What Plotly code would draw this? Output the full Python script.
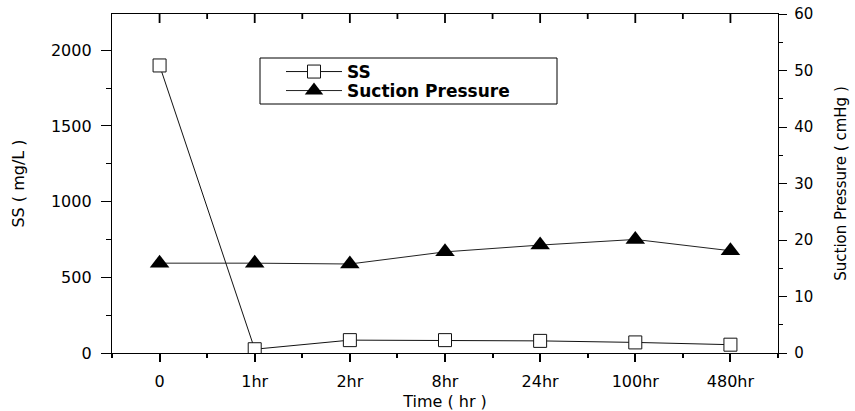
import plotly.graph_objects as go

categories = ["0", "1hr", "2hr", "8hr", "24hr", "100hr", "480hr"]
ss_values = [1900, 25, 85, 85, 80, 70, 55]
suction_values = [15.9, 15.9, 15.75, 17.9, 19.1, 20.1, 18.1]
left_ticks = [0, 500, 1000, 1500, 2000]
right_ticks = [0, 10, 20, 30, 40, 50, 60]

xpos = list(range(len(categories)))
FONT = "DejaVu Sans"

# plot-area pixel frame helpers
L, R, T, B = 112, 778, 14, 353
def px_x(p):
    return (p - L) / (R - L)
def px_y(p):
    return 1 - (p - T) / (B - T)

fig = go.Figure()
fig.add_trace(go.Scatter(
    x=xpos, y=ss_values, name="SS", mode="lines+markers", legend="legend",
    line=dict(color="#111", width=1),
    marker=dict(symbol="square", size=13, color="white", line=dict(color="#111", width=1)),
))
fig.add_trace(go.Scatter(
    x=xpos, y=suction_values, name="Suction Pressure", mode="lines+markers",
    yaxis="y2", legend="legend2",
    line=dict(color="#222", width=1),
    marker=dict(symbol="triangle-up", size=17, color="black"),
))

axis_common = dict(showgrid=False, zeroline=False, showline=True, linecolor="black", linewidth=1.3,
                   tickcolor="black", tickfont=dict(family=FONT, size=16, color="black"))
legend_common = dict(xanchor="left", yanchor="middle", borderwidth=0, bgcolor="rgba(0,0,0,0)",
                     font=dict(family=FONT, size=17, color="black", weight="bold"), itemwidth=56)

# legend frame + inward tick marks along the top edge (at category centres and half steps)
shapes = [dict(type="rect", xref="paper", yref="paper", x0=px_x(260), x1=px_x(557),
               y0=px_y(104), y1=px_y(58), line=dict(color="black", width=1), layer="below")]
for i in xpos:
    shapes.append(dict(type="line", xref="x", yref="paper", x0=i, x1=i, y0=1, y1=px_y(T + 9),
                       line=dict(color="black", width=1.8), layer="above"))
    if i < xpos[-1]:
        shapes.append(dict(type="line", xref="x", yref="paper", x0=i + 0.5, x1=i + 0.5, y0=1,
                           y1=px_y(T + 5), line=dict(color="black", width=1.8), layer="above"))

fig.update_layout(
    width=855, height=411,
    margin=dict(l=L, r=855 - R, t=T, b=411 - B, autoexpand=False),
    paper_bgcolor="white", plot_bgcolor="white",
    showlegend=True,
    legend=dict(legend_common, x=px_x(281), y=px_y(72)),
    legend2=dict(legend_common, x=px_x(281), y=px_y(91)),
    shapes=shapes,
    xaxis=dict(axis_common, mirror=True, range=[-0.5, len(categories) - 0.5], tickvals=xpos,
               ticktext=categories, ticks="outside", ticklen=8, tickwidth=1.8, ticklabelstandoff=6,
               minor=dict(dtick=0.5, tick0=0, ticks="outside", ticklen=4, tickcolor="black", tickwidth=1.5),
               title=dict(text="Time ( hr )", font=dict(family=FONT, size=16, color="black"), standoff=14),
               automargin=False),
    yaxis=dict(axis_common, range=[0, 2240], tickvals=left_ticks, ticks="outside", ticklen=10,
               tickwidth=1.3, ticklabelstandoff=6,
               minor=dict(dtick=250, ticks="outside", ticklen=5, tickcolor="black"),
               title=dict(text="SS ( mg/L )", font=dict(family=FONT, size=16, color="black"), standoff=22),
               automargin=False),
    yaxis2=dict(axis_common, overlaying="y", side="right", anchor="x", range=[0, 60], tickvals=right_ticks,
                ticks="outside", ticklen=8, tickwidth=1.3, ticklabelstandoff=4,
                tickfont=dict(family=FONT, size=15, color="black"),
                minor=dict(dtick=5, ticks="outside", ticklen=4, tickcolor="black"),
                title=dict(text="Suction Pressure ( cmHg )", font=dict(family=FONT, size=15, color="black"),
                           standoff=23),
                automargin=False),
)

fig.write_html("out.html")
